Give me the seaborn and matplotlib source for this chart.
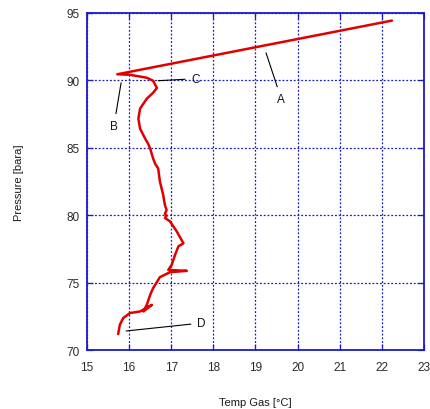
import matplotlib
matplotlib.use("Agg")
import matplotlib.pyplot as plt
import seaborn as sns
import pandas as pd

# Gas temperature / pressure trace during the blowdown
temp_gas = [22.24, 15.72, 16.02, 16.42, 16.57, 16.66, 16.57, 16.42, 16.26, 16.22,
            16.26, 16.38, 16.45, 16.50, 16.57, 16.62, 16.69, 16.71, 16.73, 16.77,
            16.81, 16.83, 16.85, 16.89, 16.85, 16.89, 16.85, 16.97, 17.13, 17.29,
            17.17, 17.09, 17.01, 16.93, 17.37, 16.97, 16.73, 16.57, 16.50, 16.42,
            16.34, 16.54, 16.26, 16.02, 15.86, 15.78, 15.74]
pressure = [94.43, 90.45, 90.41, 90.19, 89.97, 89.43, 89.08, 88.64, 87.90, 87.16,
            86.42, 85.68, 85.30, 84.94, 84.20, 83.80, 83.46, 83.00, 82.50, 82.00,
            81.49, 81.10, 80.75, 80.38, 80.10, 79.95, 79.80, 79.54, 78.80, 77.91,
            77.69, 77.05, 76.31, 75.94, 75.87, 75.77, 75.40, 74.59, 74.09, 73.35,
            72.86, 73.35, 72.86, 72.74, 72.37, 71.87, 71.18]

x_ticks = [15, 16, 17, 18, 19, 20, 21, 22, 23]
y_ticks = [70, 75, 80, 85, 90, 95]

# Labelled points on the trace: (label, point on curve, label position)
labels = ["A", "B", "C", "D"]
label_xy = [(19.25, 92.04), (15.81, 89.82), (16.69, 89.97), (15.93, 71.41)]
label_text_xy = [(19.61, 88.64), (15.64, 86.64), (17.57, 90.12), (17.71, 72.0)]

df = pd.DataFrame({"Temp Gas": temp_gas, "Pressure": pressure})

sns.set_theme(style="white")
plt.rcParams["font.family"] = ["Liberation Sans", "DejaVu Sans"]

grid_blue = "#1a1acc"

fig = plt.figure(figsize=(4.3, 4.1), dpi=100)
ax = fig.add_axes([0.2023, 0.1439, 0.7837, 0.8222])

sns.lineplot(data=df, x="Temp Gas", y="Pressure", sort=False, estimator=None,
             color="#e00000", linewidth=1.8, ax=ax)

ax.set_xlim(15, 23)
ax.set_ylim(70, 95)
ax.set_xticks(x_ticks)
ax.set_yticks(y_ticks)
ax.grid(True, color=grid_blue, linestyle=(0, (1.5, 1.5)), linewidth=0.9)

for s in ax.spines.values():
    s.set_color(grid_blue)
    s.set_linewidth(1.3)

ax.tick_params(axis="both", direction="in", length=4, width=0.9, color=grid_blue,
               labelsize=8.5, labelcolor="#2a2a2a",
               top=True, right=True, bottom=True, left=True)
ax.tick_params(axis="x", pad=8)
ax.tick_params(axis="y", pad=5)

ax.set_xlabel("Temp Gas [°C]", fontsize=8, labelpad=17, color="#1a1a1a")
ax.set_ylabel("Pressure [bara]", fontsize=8, labelpad=31, color="#1a1a1a")

for lab, xy, txy in zip(labels, label_xy, label_text_xy):
    ax.annotate(lab, xy=xy, xytext=txy, ha="center", va="center", fontsize=8.5,
                color="#111111",
                arrowprops=dict(arrowstyle="-", color="black", lw=0.8,
                                shrinkA=2, shrinkB=0))

fig.savefig("out.png", dpi=100)
